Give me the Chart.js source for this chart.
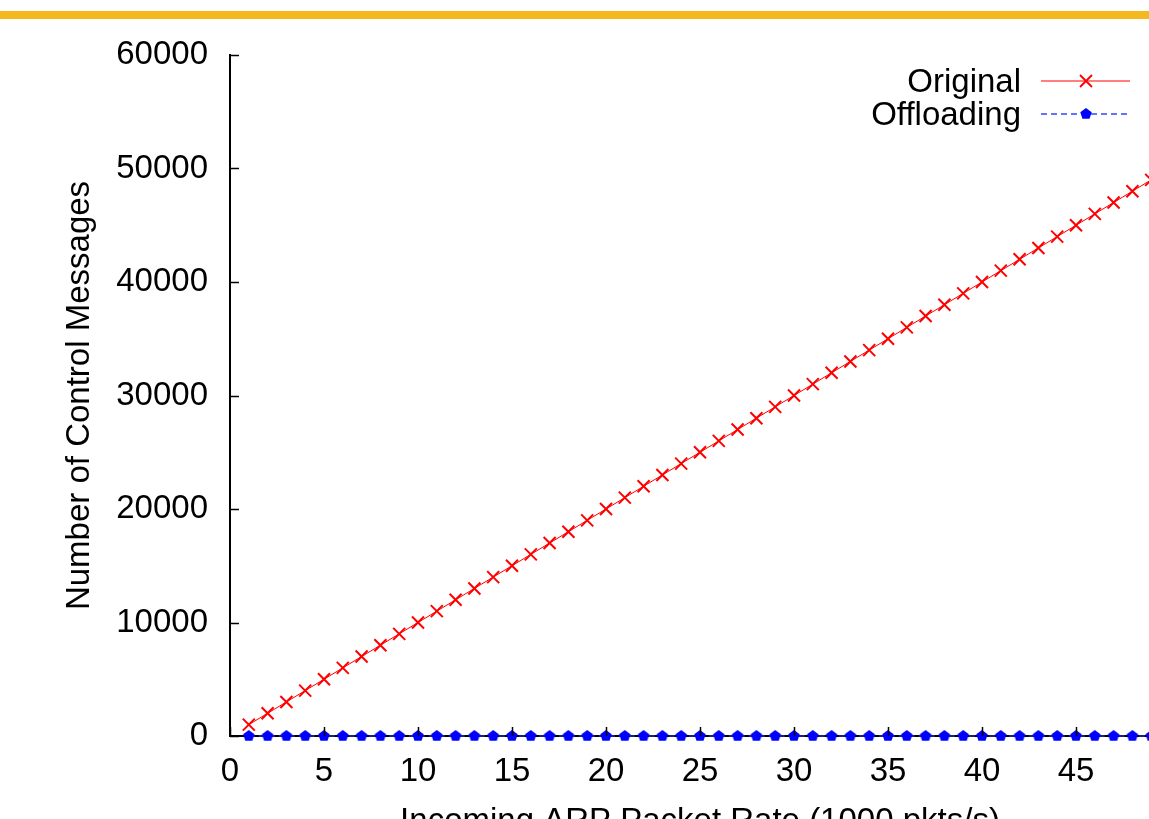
<!DOCTYPE html>
<html>
<head>
<meta charset="utf-8">
<script src="https://cdn.jsdelivr.net/npm/chart.js@4/dist/chart.umd.min.js"></script>
<style>
  html, body { margin: 0; padding: 0; background: #fff; overflow: hidden; }
  #topBar { position: absolute; left: 0; top: 11px; width: 100%; height: 8px; background: #f4b91f; z-index: 2; }
  #wrap { position: absolute; left: 0; top: 0; width: 1240px; height: 845px; }
</style>
</head>
<body>
<div id="topBar"></div>
<div id="wrap"><canvas id="msgChart" width="1240" height="845"></canvas></div>
<script>
// incoming ARP packet rate (1000 pkts/s)
const rates = [1, 2, 3, 4, 5, 6, 7, 8, 9, 10, 11, 12, 13, 14, 15, 16, 17, 18, 19, 20,
  21, 22, 23, 24, 25, 26, 27, 28, 29, 30, 31, 32, 33, 34, 35, 36, 37, 38, 39, 40,
  41, 42, 43, 44, 45, 46, 47, 48, 49];
// number of control messages
const originalMsgs = [1000, 2000, 3000, 4000, 5000, 6000, 7000, 8000, 9000, 10000,
  11000, 12000, 13000, 14000, 15000, 16000, 17000, 18000, 19000, 20000,
  21000, 22000, 23000, 24000, 25000, 26000, 27000, 28000, 29000, 30000,
  31000, 32000, 33000, 34000, 35000, 36000, 37000, 38000, 39000, 40000,
  41000, 42000, 43000, 44000, 45000, 46000, 47000, 48000, 49000];
const offloadingMsgs = [0, 0, 0, 0, 0, 0, 0, 0, 0, 0, 0, 0, 0, 0, 0, 0, 0, 0, 0, 0,
  0, 0, 0, 0, 0, 0, 0, 0, 0, 0, 0, 0, 0, 0, 0, 0, 0, 0, 0, 0,
  0, 0, 0, 0, 0, 0, 0, 0, 0];
const xTicks = [0, 5, 10, 15, 20, 25, 30, 35, 40, 45, 50];
const yTicks = [0, 10000, 20000, 30000, 40000, 50000, 60000];
const seriesNames = ['Original', 'Offloading'];

const FONT = '"Liberation Sans", Arial, Helvetica, sans-serif';
const FSIZE = 33;

// filled pentagon marker (gnuplot style)
const makePentagon = (r, color) => {
  const c = document.createElement('canvas');
  c.width = c.height = r * 2 + 2;
  const g = c.getContext('2d');
  g.fillStyle = color;
  g.beginPath();
  for (let i = 0; i < 5; i++) {
    const a = -Math.PI / 2 + i * 2 * Math.PI / 5;
    const px = r + 1 + r * Math.cos(a), py = r + 1 + r * Math.sin(a);
    if (i === 0) g.moveTo(px, py); else g.lineTo(px, py);
  }
  g.closePath();
  g.fill();
  return c;
};
const pentagon = makePentagon(6, '#0000ff');

// ticks pointing into the plot
const innerTicks = {
  id: 'innerTicks',
  afterDraw: (chart) => {
    const {ctx, chartArea, scales} = chart;
    ctx.save();
    ctx.strokeStyle = '#000';
    ctx.lineWidth = 1.5;
    ctx.beginPath();
    yTicks.forEach(v => {
      const y = Math.round(scales.y.getPixelForValue(v)) + 0.5;
      ctx.moveTo(chartArea.left, y);
      ctx.lineTo(chartArea.left + 9, y);
    });
    xTicks.forEach(v => {
      const x = Math.round(scales.x.getPixelForValue(v)) + 0.5;
      ctx.moveTo(x, chartArea.bottom);
      ctx.lineTo(x, chartArea.bottom - 9);
    });
    ctx.stroke();
    ctx.restore();
  }
};

// gnuplot-like key in the top right
const keyBox = {
  id: 'keyBox',
  afterDraw: (chart) => {
    const {ctx} = chart;
    const textRight = 1021, lineL = 1041, lineR = 1130, mid = 1086;
    const rowsY = [83, 116];
    ctx.save();
    ctx.font = FSIZE + 'px ' + FONT;
    ctx.fillStyle = '#000';
    ctx.textAlign = 'right';
    ctx.textBaseline = 'middle';
    seriesNames.forEach((name, i) => ctx.fillText(name, textRight, rowsY[i]));

    // Original: solid red with x
    const y0 = rowsY[0] - 2;
    ctx.strokeStyle = '#ff0000';
    ctx.lineWidth = 1.2;
    ctx.beginPath();
    ctx.moveTo(lineL, y0);
    ctx.lineTo(lineR, y0);
    ctx.stroke();
    ctx.lineWidth = 1.8;
    ctx.beginPath();
    ctx.moveTo(mid - 6, y0 - 6); ctx.lineTo(mid + 6, y0 + 6);
    ctx.moveTo(mid - 6, y0 + 6); ctx.lineTo(mid + 6, y0 - 6);
    ctx.stroke();

    // Offloading: dashed blue with pentagon
    const y1 = rowsY[1] - 2;
    ctx.strokeStyle = '#3344ff';
    ctx.lineWidth = 1.3;
    ctx.setLineDash([6, 4]);
    ctx.beginPath();
    ctx.moveTo(lineL, y1);
    ctx.lineTo(lineR, y1);
    ctx.stroke();
    ctx.setLineDash([]);
    ctx.drawImage(pentagon, mid - pentagon.width / 2, y1 - pentagon.height / 2);
    ctx.restore();
  }
};

const toPoints = (ys) => rates.map((r, i) => ({x: r, y: ys[i]}));

new Chart(document.getElementById('msgChart').getContext('2d'), {
  type: 'line',
  data: {
    datasets: [{
      label: seriesNames[0],
      data: toPoints(originalMsgs),
      borderColor: '#ff0000',
      borderWidth: 1,
      pointStyle: 'crossRot',
      pointRadius: 8.5,
      pointBorderWidth: 2,
      pointBorderColor: '#ff0000',
      pointBackgroundColor: '#ff0000',
      fill: false,
      tension: 0,
      clip: false
    }, {
      label: seriesNames[1],
      data: toPoints(offloadingMsgs),
      borderColor: '#3344ff',
      borderWidth: 1,
      borderDash: [6, 4],
      pointStyle: pentagon,
      pointRadius: 6,
      fill: false,
      tension: 0,
      clip: false
    }]
  },
  options: {
    responsive: false,
    animation: false,
    devicePixelRatio: 1,
    layout: { padding: { left: 60, top: 55, right: 70, bottom: 3 } },
    plugins: {
      legend: { display: false },
      tooltip: { enabled: false }
    },
    scales: {
      x: {
        type: 'linear',
        min: 0,
        max: 50,
        afterFit: (scale) => { scale.height = 106; },
        afterBuildTicks: (scale) => { scale.ticks = xTicks.map(v => ({value: v})); },
        grid: { display: false, drawTicks: false },
        border: { display: true, color: '#000', width: 2 },
        ticks: { color: '#000', padding: 16, maxRotation: 0, font: { family: FONT, size: FSIZE } },
        title: {
          display: true,
          text: 'Incoming ARP Packet Rate (1000 pkts/s)',
          color: '#000',
          padding: 0,
          font: { family: FONT, size: FSIZE }
        }
      },
      y: {
        type: 'linear',
        min: 0,
        max: 60000,
        afterFit: (scale) => { scale.width = 170; },
        afterBuildTicks: (scale) => { scale.ticks = yTicks.map(v => ({value: v})); },
        grid: { display: false, drawTicks: false },
        border: { display: true, color: '#000', width: 2 },
        ticks: {
          color: '#000',
          padding: 22,
          font: { family: FONT, size: FSIZE },
          callback: (v) => String(v)
        },
        title: {
          display: true,
          text: 'Number of Control Messages',
          color: '#000',
          padding: 0,
          font: { family: FONT, size: FSIZE }
        }
      }
    }
  },
  plugins: [innerTicks, keyBox]
});
</script>
</body>
</html>
